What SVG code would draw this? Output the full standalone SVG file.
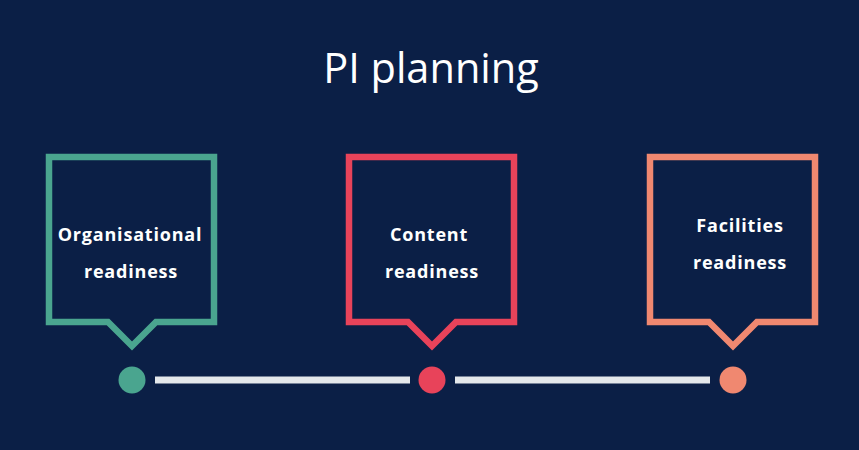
<svg xmlns="http://www.w3.org/2000/svg" width="859" height="450" viewBox="0 0 859 450">
<style>
.bg{fill:#0b1f46}
.box{fill:none;stroke-width:6.5;stroke-linejoin:miter}
.lbl{font-family:"Open Sans","Noto Sans",sans-serif;font-weight:700;font-size:18px;letter-spacing:0.8px;fill:#ffffff;text-anchor:middle}
.title{font-family:"Open Sans","Noto Sans",sans-serif;font-weight:400;font-size:41.5px;fill:#ffffff;text-anchor:middle}
.conn{stroke:#e4e8eb;stroke-width:7}
</style>
<rect class="bg" x="0" y="0" width="859" height="450"/>
<text class="title" x="431" y="83">PI planning</text>
<g id="connectors">
<line class="conn" x1="155" y1="380" x2="410" y2="380"/>
<line class="conn" x1="455" y1="380" x2="710" y2="380"/>
</g>
<g id="node-organisational">
<path class="box" stroke="#4aa58f" d="M49,157 H214 V322 H156 L132,346 L108,322 H49 Z"/>
<circle cx="132" cy="380" r="13.5" fill="#4aa58f"/>
<text class="lbl" x="130" y="241">Organisational</text>
<text class="lbl" x="131" y="278">readiness</text>
</g>
<g id="node-content">
<path class="box" stroke="#e8435a" d="M349,157 H514 V322 H456 L432,346 L408,322 H349 Z"/>
<circle cx="432" cy="380" r="13.5" fill="#e8435a"/>
<text class="lbl" x="429" y="241">Content</text>
<text class="lbl" x="432" y="278">readiness</text>
</g>
<g id="node-facilities">
<path class="box" stroke="#f08870" d="M650,157 H815 V322 H757 L733,346 L709,322 H650 Z"/>
<circle cx="733" cy="380" r="13.5" fill="#f08870"/>
<text class="lbl" x="740" y="232">Facilities</text>
<text class="lbl" x="740" y="269">readiness</text>
</g>
</svg>
